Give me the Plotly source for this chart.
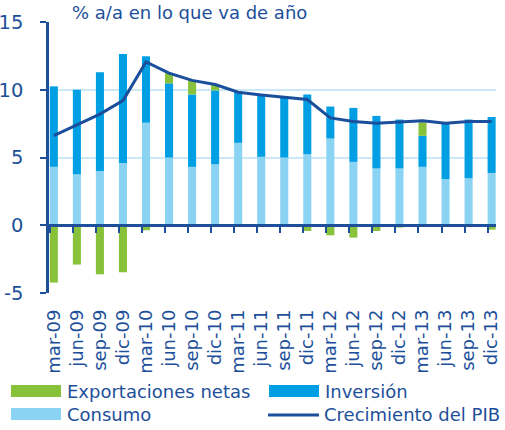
import plotly.graph_objects as go

# ---------------- data ----------------
periods = ["mar-09", "jun-09", "sep-09", "dic-09", "mar-10", "jun-10", "sep-10", "dic-10",
           "mar-11", "jun-11", "sep-11", "dic-11", "mar-12", "jun-12", "sep-12", "dic-12",
           "mar-13", "jun-13", "sep-13", "dic-13"]
consumo = [4.31, 3.77, 4.01, 4.60, 7.57, 5.00, 4.31, 4.50,
           6.08, 5.05, 5.00, 5.24, 6.40, 4.68, 4.19, 4.19,
           4.31, 3.40, 3.47, 3.86]
inversion = [5.94, 6.23, 7.29, 8.04, 4.90, 5.47, 5.34, 5.45,
             3.74, 4.55, 4.45, 4.41, 2.36, 3.98, 3.88, 3.61,
             2.29, 4.13, 4.33, 4.13]
exportaciones_netas = [-4.23, -2.90, -3.62, -3.47, -0.37, 0.76, 1.04, 0.44,
                       0.00, 0.00, 0.00, -0.42, -0.74, -0.91, -0.42, -0.17,
                       1.00, 0.00, 0.00, -0.32]
crecimiento_pib = [6.61, 7.42, 8.20, 9.20, 12.05, 11.23, 10.69, 10.39,
                   9.82, 9.62, 9.45, 9.28, 7.92, 7.65, 7.53, 7.63,
                   7.72, 7.53, 7.65, 7.65]
y_ticks = [-5, 0, 5, 10, 15]
y_tick_labels = ["-5", "0", "5", "10", "15"]

# ---------------- style ----------------
FONT = "DejaVu Sans"
DARK = "#1d4f9a"
LINE = "#1b4e9b"
C_INV = "#009ee2"
C_CON = "#8bd3f3"
C_EXP = "#87c23a"
GRID = "#cbe8f7"

W, H = 505, 430
ML, MR, MT, MB = 49, 9, 22, 137
PW, PH = W - ML - MR, H - MT - MB

def px_x(px):
    return (px - ML) / PW

def px_y(py):
    return (MT + PH - py) / PH

x = list(range(len(periods)))
BAR_W = 0.35
XR = [-0.21, len(periods) - 1 + 0.19]

fig = go.Figure()
fig.add_bar(x=x, y=consumo, name="Consumo", marker=dict(color=C_CON, line=dict(width=0)), width=BAR_W)
fig.add_bar(x=x, y=inversion, name="Inversión", marker=dict(color=C_INV, line=dict(width=0)), width=BAR_W)
fig.add_bar(x=x, y=exportaciones_netas, name="Exportaciones netas",
            marker=dict(color=C_EXP, line=dict(width=0)), width=BAR_W)
fig.add_scatter(x=x, y=crecimiento_pib, mode="lines", name="Crecimiento del PIB",
                line=dict(color=LINE, width=3), xaxis="x2")

fig.update_layout(
    width=W, height=H,
    margin=dict(l=ML, r=MR, t=MT, b=MB, autoexpand=False),
    paper_bgcolor="white", plot_bgcolor="white",
    barmode="relative",
    showlegend=False,
    font=dict(family=FONT, color=DARK),
    xaxis=dict(
        range=XR, tickmode="array", tickvals=x, ticktext=periods,
        tickangle=-90, tickfont=dict(size=18, color=DARK, family=FONT),
        ticks="", showgrid=False, zeroline=False, showline=False,
        ticklabelstandoff=12, automargin=False,
    ),
    xaxis2=dict(
        overlaying="x", anchor="free", position=0.25, range=XR,
        tickmode="array", tickvals=[v - BAR_W / 2 for v in x],
        showticklabels=False, ticks="outside", ticklen=6, tickwidth=2, tickcolor=DARK,
        showline=True, linecolor=DARK, linewidth=3,
        showgrid=False, zeroline=False, automargin=False,
    ),
    yaxis=dict(
        range=[y_ticks[0], y_ticks[-1]], tickmode="array", tickvals=y_ticks, ticktext=y_tick_labels,
        showgrid=True, gridcolor=GRID, gridwidth=1.5, zeroline=False,
        showline=True, linecolor=DARK, linewidth=2.5,
        ticks="outside", ticklen=6, tickwidth=2, tickcolor=DARK,
        tickfont=dict(size=19.5, color=DARK, family=FONT),
        ticklabelstandoff=13, automargin=False,
    ),
)

# title
annotations = [dict(text="% a/a en lo que va de año", x=px_x(70), y=px_y(12),
                    xref="paper", yref="paper", xanchor="left", yanchor="middle",
                    showarrow=False, font=dict(size=18, color=DARK, family=FONT))]

# custom legend (wide swatches)
legend_items = [
    ("Exportaciones netas", C_EXP, "rect", 11, 391),
    ("Inversión", C_INV, "rect", 269, 391),
    ("Consumo", C_CON, "rect", 11, 414),
    ("Crecimiento del PIB", LINE, "line", 268, 414),
]
shapes = []
for name, col, kind, lx, cy in legend_items:
    if kind == "rect":
        shapes.append(dict(type="rect", xref="paper", yref="paper",
                           x0=px_x(lx), x1=px_x(lx + 50), y0=px_y(cy - 6), y1=px_y(cy + 6),
                           fillcolor=col, line=dict(width=0)))
    else:
        shapes.append(dict(type="line", xref="paper", yref="paper",
                           x0=px_x(lx), x1=px_x(lx + 51), y0=px_y(cy + 1), y1=px_y(cy + 1),
                           line=dict(color=col, width=3)))
    annotations.append(dict(text=name, x=px_x(lx + 54), y=px_y(cy), xref="paper", yref="paper",
                            xanchor="left", yanchor="middle", showarrow=False,
                            font=dict(size=18, color=DARK, family=FONT)))

fig.update_layout(shapes=shapes, annotations=annotations)

fig.write_html("out.html", config={"displayModeBar": False},
               post_script="document.body.style.margin='0';document.body.style.padding='0';")
